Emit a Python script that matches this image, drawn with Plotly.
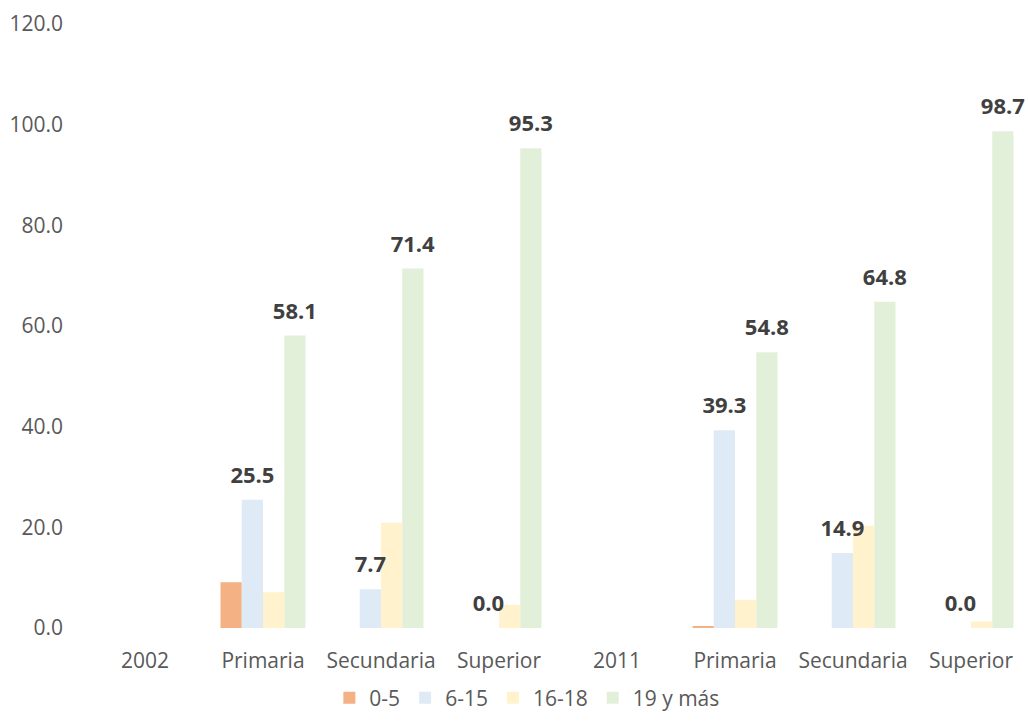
import plotly.graph_objects as go

categories = ["2002", "Primaria", "Secundaria", "Superior", "2011", "Primaria", "Secundaria", "Superior"]
series_names = ["0-5", "6-15", "16-18", "19 y más"]
v_0_5 = [None, 9.1, 0.0, 0.0, None, 0.3, 0.0, 0.0]
v_6_15 = [None, 25.5, 7.7, 0.0, None, 39.3, 14.9, 0.0]
v_16_18 = [None, 7.1, 20.9, 4.6, None, 5.6, 20.3, 1.3]
v_19 = [None, 58.1, 71.4, 95.3, None, 54.8, 64.8, 98.7]
colors = ["#F4B183", "#DEEBF7", "#FFF2CC", "#E2F0D9"]
show_labels = [False, True, False, True]
y_ticks = [0, 20, 40, 60, 80, 100, 120]

positions = list(range(len(categories)))
all_vals = [v_0_5, v_6_15, v_16_18, v_19]
x_range = [-0.5, len(categories) - 0.517]
y_range = [0, 120]
label_lift = 1.6  # label layer axis offset (in data units) so labels sit a bit higher

fig = go.Figure()
# visible bars
for name, vals, col in zip(series_names, all_vals, colors):
    fig.add_trace(go.Bar(x=positions, y=vals, name=name,
                         marker=dict(color=col, line=dict(width=0)),
                         xaxis="x", yaxis="y"))
# label layer on an overlaying axis so text is drawn above all bars
for name, vals, lab in zip(series_names, all_vals, show_labels):
    txt = [None if (v is None or not lab) else f"{v:.1f}" for v in vals]
    fig.add_trace(go.Bar(x=positions, y=vals, name=name, showlegend=False,
                         marker=dict(color="rgba(0,0,0,0)", line=dict(width=0)),
                         text=txt, textposition="outside", constraintext="none",
                         textfont=dict(family="Open Sans", size=22, color="#404040", weight="bold"),
                         cliponaxis=False, hoverinfo="skip",
                         xaxis="x2", yaxis="y2"))

fig.update_layout(
    barmode="group",
    bargap=0.28,
    bargroupgap=0,
    width=1028,
    height=726,
    margin=dict(l=86, r=0, t=24, b=98),
    plot_bgcolor="white",
    paper_bgcolor="white",
    font=dict(family="Open Sans", size=21, color="#595959"),
    xaxis=dict(
        tickmode="array",
        tickvals=positions,
        ticktext=categories,
        range=x_range,
        showgrid=False, showline=False, zeroline=False, ticks="",
        ticklabelstandoff=18,
        tickfont=dict(family="Open Sans", size=21, color="#595959"),
    ),
    yaxis=dict(
        range=y_range,
        tickvals=y_ticks,
        ticktext=[f"{t:.1f}" for t in y_ticks],
        showgrid=False, showline=False, zeroline=False, ticks="",
        ticklabelstandoff=22,
        tickfont=dict(family="Open Sans", size=21, color="#595959"),
    ),
    xaxis2=dict(overlaying="x", visible=False, range=x_range),
    yaxis2=dict(overlaying="y", visible=False,
                range=[y_range[0] - label_lift, y_range[1] - label_lift]),
    legend=dict(
        orientation="h",
        x=0.468,
        xanchor="center",
        y=-0.116,
        yanchor="middle",
        font=dict(family="Open Sans", size=21, color="#595959"),
        itemwidth=30,
        traceorder="normal",
    ),
    showlegend=True,
)
fig.write_html("out.html", config={"displayModeBar": False},
               post_script="document.body.style.margin='0px';")
